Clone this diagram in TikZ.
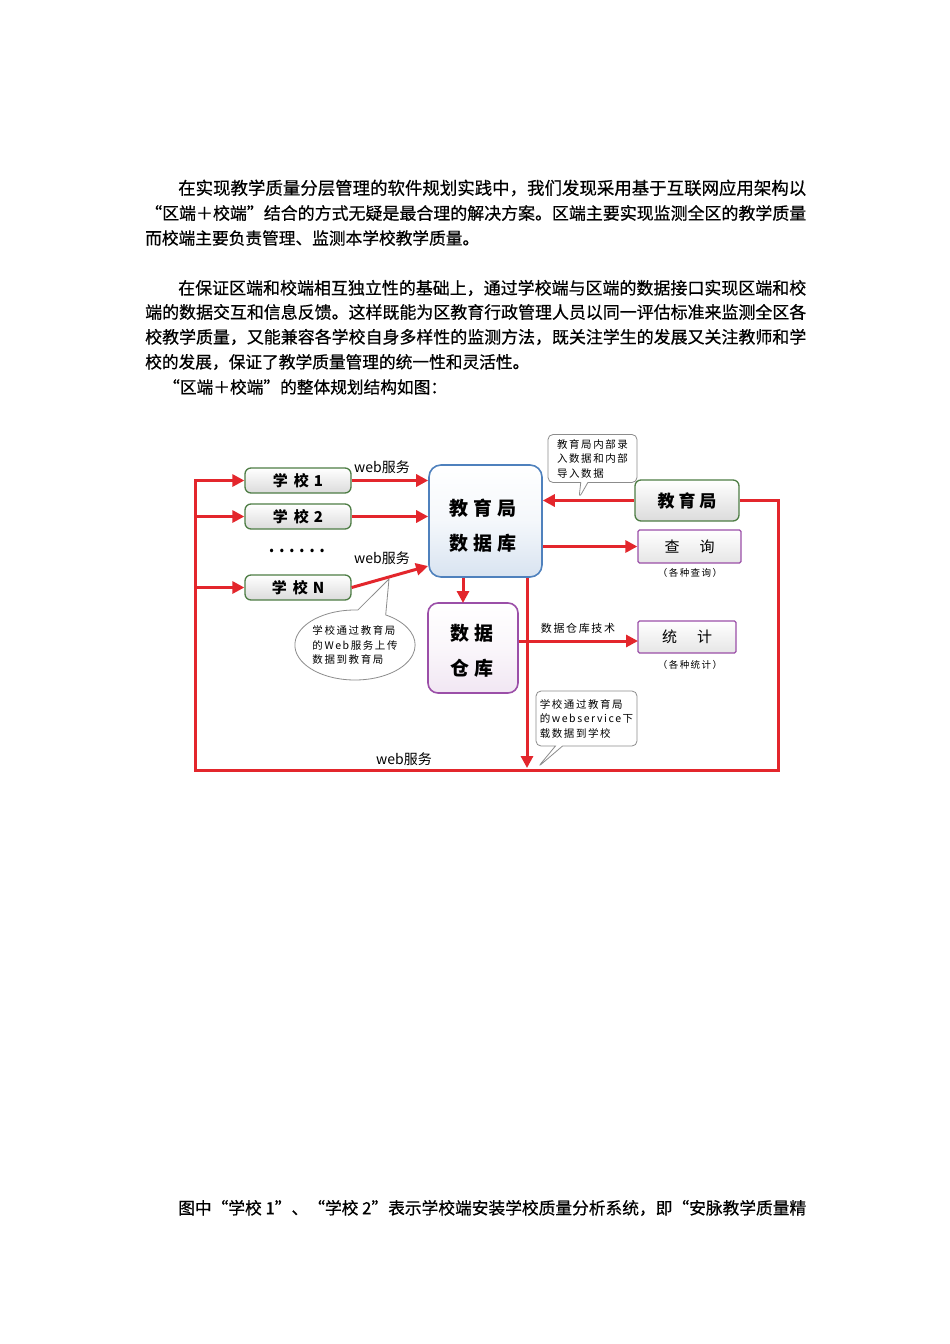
\documentclass[tikz,border=0pt]{standalone}
\usepackage{fontspec}
\usepackage{graphicx}
\setmainfont{Noto Sans CJK SC}
\newfontfamily\cjksp[LetterSpace=15]{Noto Sans CJK SC}
\newfontfamily\bodyfont[FakeBold=0.6]{Noto Sans CJK SC}
\usetikzlibrary{arrows.meta,shapes.callouts,shapes.geometric}
\definecolor{redl}{HTML}{E3262C}
\definecolor{gbord}{HTML}{4E7D45}
\definecolor{bbord}{HTML}{4F81BD}
\definecolor{pbord}{HTML}{9B4FA8}
\begin{document}
\begin{tikzpicture}[x=1pt,y=-1pt,
  body/.style={anchor=west,inner sep=0pt,font=\bodyfont\fontsize{16.7}{20}\selectfont},
  arr/.style={draw=redl,line width=3pt,-{Triangle[length=12pt,width=12pt]}},
  school/.style={draw=gbord,line width=1.3pt,rounded corners=6pt,top color=white,bottom color=black!14,inner sep=0pt,font=\bfseries\fontsize{15}{15}\selectfont},
  pbox/.style={draw=pbord,line width=1.3pt,rounded corners=1.5pt,top color=white,bottom color=black!10,inner sep=0pt,font=\fontsize{15}{15}\selectfont},
  bigtxt/.style={inner sep=0pt,font=\bfseries\fontsize{19}{19}\selectfont},
  lbl/.style={inner sep=0pt,font=\fontsize{14}{14}\selectfont},
  small/.style={inner sep=0pt,font=\cjksp\fontsize{11}{14.5}\selectfont},
  sublbl/.style={inner sep=0pt,font=\cjksp\fontsize{9.5}{9.5}\selectfont},
  callbox/.style={draw=black!45,line width=0.8pt,fill=white,align=left,text=black,font=\cjksp\fontsize{10.5}{14.5}\selectfont}
]
\fill[white] (0,0) rectangle (950,1344);
\useasboundingbox (0,0) rectangle (950,1344);

% body text
\node[body] (p1) at (178,188) {\resizebox{628pt}{!}{在实现教学质量分层管理的软件规划实践中，我们发现采用基于互联网应用架构以}};
\node[body] (p2) at (145,213) {\resizebox{661pt}{!}{“区端＋校端”结合的方式无疑是最合理的解决方案。区端主要实现监测全区的教学质量}};
\node[body] (p3) at (145,238) {而校端主要负责管理、监测本学校教学质量。};
\node[body] (p4) at (178,288) {\resizebox{628pt}{!}{在保证区端和校端相互独立性的基础上，通过学校端与区端的数据接口实现区端和校}};
\node[body] (p5) at (145,312) {\resizebox{661pt}{!}{端的数据交互和信息反馈。这样既能为区教育行政管理人员以同一评估标准来监测全区各}};
\node[body] (p6) at (145,337) {\resizebox{661pt}{!}{校教学质量，又能兼容各学校自身多样性的监测方法，既关注学生的发展又关注教师和学}};
\node[body] (p7) at (145,362) {校的发展，保证了教学质量管理的统一性和灵活性。};
\node[body] (p8) at (163,387) {“区端＋校端”的整体规划结构如图：};
\node[body] (p9) at (178,1208) {\resizebox{628pt}{!}{图中“学校 1”、“学校 2”表示学校端安装学校质量分析系统，即“安脉教学质量精}};

% callouts
\node[callbox,rectangle callout,rounded corners=5pt,minimum width=89pt,minimum height=48pt,inner sep=3pt,callout absolute pointer={(579,498)}] (c1) at (592.5,458.5) {教育局内部录\\入数据和内部\\导入数据};
\node[callbox,ellipse callout,minimum width=120pt,minimum height=70pt,inner sep=0pt,callout absolute pointer={(389,579)},callout pointer arc=28] (c2) at (355,645) {学校通过教育局\\的Web服务上传\\数据到教育局};
\node[callbox,rectangle callout,rounded corners=5pt,minimum width=101pt,minimum height=55pt,inner sep=3pt,callout absolute pointer={(538,767)}] (c3) at (586.5,718.5) {学校通过教育局\\的webservice下\\载数据到学校};

% school boxes
\node[school,minimum width=106pt,minimum height=25pt] (s1) at (298,480.5) {学\hspace{6pt}校\hspace{5pt}1};
\node[school,minimum width=106pt,minimum height=25pt] (s2) at (298,516.5) {学\hspace{6pt}校\hspace{5pt}2};
\node[school,minimum width=106pt,minimum height=25pt] (sn) at (298,587.5) {学\hspace{6pt}校\hspace{5pt}N};
\node[inner sep=0pt,font=\bfseries\fontsize{16}{16}\selectfont] (dots) at (297,551) {.\hspace{4.5pt}.\hspace{4.5pt}.\hspace{4.5pt}.\hspace{4.5pt}.\hspace{4.5pt}.};

% database
\node[draw=bbord,line width=1.6pt,rounded corners=12pt,minimum width=113pt,minimum height=112pt,inner sep=0pt,top color=white,bottom color=bbord!22,middle color=bbord!6] (db) at (485.5,521) {};
\node[bigtxt] (db1) at (483,508) {教\hspace{5pt}育\hspace{5pt}局};
\node[bigtxt] (db2) at (483,543) {数\hspace{5pt}据\hspace{5pt}库};

% warehouse
\node[draw=pbord,line width=1.6pt,rounded corners=10pt,minimum width=90pt,minimum height=90pt,inner sep=0pt,top color=white,bottom color=pbord!14,middle color=pbord!5] (wh) at (473,648) {};
\node[bigtxt] (wh1) at (472,633) {数\hspace{5pt}据};
\node[bigtxt] (wh2) at (472,668) {仓\hspace{5pt}库};

% right boxes
\node[school,minimum width=104pt,minimum height=41pt,font=\bfseries\fontsize{17}{17}\selectfont] (edu) at (687,500.5) {教\hspace{4pt}育\hspace{4pt}局};
\node[pbox,minimum width=103pt,minimum height=33pt] (q) at (689.5,546.5) {查\hspace{20pt}询};
\node[sublbl] (ql) at (690,573) {（各种查询）};
\node[pbox,minimum width=98pt,minimum height=32pt] (st) at (687,637) {统\hspace{20pt}计};
\node[sublbl] (stl) at (690,665) {（各种统计）};

% labels
\node[lbl] (w1) at (382,467) {web服务};
\node[lbl] (w2) at (382,558) {web服务};
\node[lbl] (w3) at (404,759) {web服务};
\node[small] (tech) at (578,628) {数据仓库技术};

% coordinates
\coordinate (rt) at (778,500.5);
\coordinate (rb) at (778,770);
\coordinate (lb) at (195,770);
\coordinate (dbn) at (428,566);
\coordinate (dw) at (463,603);
\coordinate (bt) at (527,768);
\coordinate (sta) at (638,641);

% connectors
\draw[arr] (s1.east) -- (db.west |- s1.east);
\draw[arr] (s2.east) -- (db.west |- s2.east);
\draw[arr] (sn.east) -- (dbn);
\draw[arr] (edu.east) -- (rt) -- (rb) -- (lb) |- (s1.west);
\draw[arr] (lb |- s2.west) -- (s2.west);
\draw[arr] (lb |- sn.west) -- (sn.west);
\draw[arr] (edu.west) -- (db.east |- edu.west);
\draw[arr] (db.east |- q.west) -- (q.west);
\draw[arr] (db.south -| dw) -- (dw);
\draw[arr] (db.south -| bt) -- (bt);
\draw[arr] (wh.east |- sta) -- (sta);
\end{tikzpicture}
\end{document}
